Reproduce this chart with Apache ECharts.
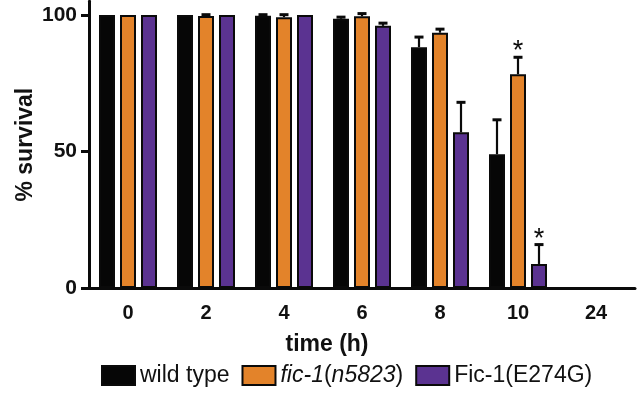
<!DOCTYPE html>
<html>
<head>
<meta charset="utf-8">
<script src="https://cdn.jsdelivr.net/npm/echarts@6/dist/echarts.min.js"></script>
<style>
html,body{margin:0;padding:0;background:#fff;}
#chart{width:637px;height:393px;}
</style>
</head>
<body>
<div id="chart"></div>
<script>
// ---- data ----
const categories = ['0', '2', '4', '6', '8', '10', '24'];
const seriesNames = ['wild type', 'fic-1(n5823)', 'Fic-1(E274G)'];
const wildType      = [100, 100, 99.7, 98.6, 88.2, 49.0, 0];
const wildTypeErr   = [0, 0, 0.4, 0.6, 3.7, 12.6, 0];
const fic1          = [100, 99.6, 99.2, 99.5, 93.5, 78.3, 0];
const fic1Err       = [0, 0.5, 0.9, 1.0, 1.3, 6.2, 0];
const e274g         = [100, 100, 100, 96.0, 57.0, 8.8, 0];
const e274gErr      = [0, 0, 0, 1.0, 11.0, 7.1, 0];
const wildTypeSig   = [0, 0, 0, 0, 0, 0, 0];
const fic1Sig       = [0, 0, 0, 0, 0, 1, 0];
const e274gSig      = [0, 0, 0, 0, 0, 1, 0];
const yTicks = [0, 50, 100];

// ---- styles ----
const FONT = '"Liberation Sans", Arial, Helvetica, sans-serif';
const colors = ['#060606', '#E3832A', '#5B3391'];
const BAR_W = 16;
const STEP = 21;               // distance between bar centres within a group
const offsets = [-STEP, 0, STEP];

const values = [wildType, fic1, e274g];
const errs = [wildTypeErr, fic1Err, e274gErr];
const sigs = [wildTypeSig, fic1Sig, e274gSig];

const barSeries = seriesNames.map((name, s) => ({
  name: name,
  type: 'bar',
  barWidth: BAR_W,
  barGap: ((STEP - BAR_W) / BAR_W * 100) + '%',
  data: values[s],
  itemStyle: { color: colors[s], borderColor: '#0a0a0a', borderWidth: 2 },
  z: 3
}));

function makeErrSeries(s) {
  return {
    type: 'custom',
    name: seriesNames[s] + ' err',
    z: 4,
    silent: true,
    data: categories.map((c, i) => [i, values[s][i], errs[s][i], sigs[s][i]]),
    encode: { x: 0, y: 1 },
    renderItem: function (params, api) {
      const i = api.value(0), v = api.value(1), e = api.value(2), sig = api.value(3);
      const base = api.coord([i, v]);
      const x = base[0] + offsets[s];
      const children = [];
      let capY = base[1];
      if (e > 0) {
        const top = api.coord([i, v + e]);
        capY = top[1];
        children.push({
          type: 'line',
          shape: { x1: x, y1: base[1], x2: x, y2: capY },
          style: { stroke: '#0a0a0a', lineWidth: 2.2 }
        });
        children.push({
          type: 'line',
          shape: { x1: x - 4.5, y1: capY, x2: x + 4.5, y2: capY },
          style: { stroke: '#0a0a0a', lineWidth: 3 }
        });
      }
      if (sig) {
        children.push({
          type: 'text',
          style: {
            text: '*', x: x, y: capY + 8,
            align: 'center', verticalAlign: 'bottom',
            font: '27px ' + FONT, fill: '#0a0a0a'
          }
        });
      }
      return { type: 'group', children: children };
    }
  };
}

const chart = echarts.init(document.getElementById('chart'), null, { renderer: 'canvas' });
chart.setOption({
  animation: false,
  backgroundColor: '#ffffff',
  grid: { left: 89, width: 546, top: 1.3, bottom: 105, containLabel: false },
  legend: {
    data: seriesNames,
    left: 101, top: 364, padding: 0,
    itemWidth: 33, itemHeight: 19, itemGap: 12,
    icon: 'rect',
    textStyle: {
      fontFamily: FONT, fontSize: 23, color: '#111',
      rich: { i: { fontStyle: 'italic', fontFamily: FONT, fontSize: 23, color: '#111' } }
    },
    formatter: function (name) {
      if (name === 'fic-1(n5823)') return '{i|fic-1}({i|n5823})';
      return name;
    }
  },
  xAxis: {
    type: 'category',
    data: categories,
    boundaryGap: true,
    name: 'time (h)',
    nameLocation: 'middle',
    nameGap: 45,
    nameMoveOverlap: false,
    nameTextStyle: { fontFamily: FONT, fontSize: 23, fontWeight: 'bold', color: '#111', padding: [0, 70, 0, 0] },
    axisLine: { lineStyle: { color: '#0a0a0a', width: 3 } },
    axisTick: { alignWithLabel: true, length: 8, lineStyle: { color: '#0a0a0a', width: 3.5 } },
    axisLabel: { margin: 15, fontFamily: FONT, fontSize: 20, fontWeight: 'bold', color: '#111' },
    splitLine: { show: false }
  },
  yAxis: {
    type: 'value',
    min: 0, max: 105,
    name: '% survival',
    nameLocation: 'middle',
    nameGap: 52,
    nameMoveOverlap: false,
    nameTextStyle: { fontFamily: FONT, fontSize: 23, fontWeight: 'bold', color: '#111' },
    axisLine: { show: true, lineStyle: { color: '#0a0a0a', width: 3 } },
    axisTick: { show: true, length: 8, customValues: yTicks, lineStyle: { color: '#0a0a0a', width: 3 } },
    axisLabel: { margin: 12, customValues: yTicks, fontFamily: FONT, fontSize: 21, fontWeight: 'bold', color: '#111' },
    splitLine: { show: false }
  },
  series: barSeries.concat([makeErrSeries(0), makeErrSeries(1), makeErrSeries(2)])
});
</script>
</body>
</html>
